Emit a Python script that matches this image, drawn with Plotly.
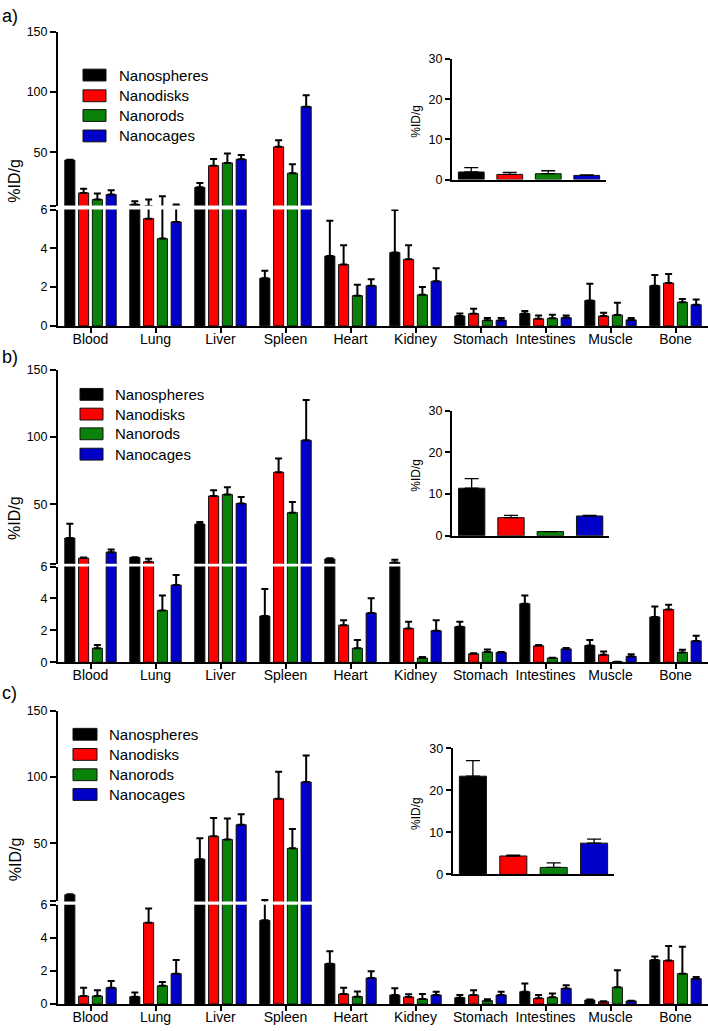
import plotly.graph_objects as go

W, H = 708, 1031

organs = ["Blood", "Lung", "Liver", "Spleen", "Heart", "Kidney",
          "Stomach", "Intestines", "Muscle", "Bone"]
particles = ["Nanospheres", "Nanodisks", "Nanorods", "Nanocages"]
colors = ["#000000", "#ff0000", "#0a820a", "#0000c8"]

# a) values in %ID/g (mean and upper error)
a_spheres = [43.7, 6.9, 21.1, 2.46, 3.6, 3.78, 0.51, 0.64, 1.31, 2.07]
a_spheres_sd = [0.3, 2.7, 3.5, 0.38, 1.82, 2.2, 0.13, 0.13, 0.86, 0.56]
a_disks = [16.5, 5.53, 39.0, 54.6, 3.16, 3.43, 0.63, 0.37, 0.51, 2.21]
a_disks_sd = [3.5, 5.5, 5.5, 5.5, 1.0, 0.73, 0.25, 0.17, 0.17, 0.47]
a_rods = [11.0, 4.5, 41.3, 32.8, 1.56, 1.6, 0.29, 0.39, 0.56, 1.22]
a_rods_sd = [5.0, 9.2, 7.9, 7.4, 0.56, 0.4, 0.12, 0.19, 0.63, 0.17]
a_cages = [15.1, 5.36, 44.3, 87.9, 2.07, 2.3, 0.29, 0.42, 0.31, 1.09]
a_cages_sd = [3.5, 1.5, 3.5, 9.5, 0.34, 0.67, 0.12, 0.12, 0.1, 0.27]
a_inset = [1.9, 1.3, 1.47, 1.05]
a_inset_sd = [1.1, 0.5, 0.73, 0.15]

# b)
b_spheres = [25.1, 10.7, 35.4, 2.9, 9.6, 7.0, 2.23, 3.67, 1.05, 2.84]
b_spheres_sd = [10.5, 0.2, 1.6, 1.7, 0.5, 2.0, 0.31, 0.51, 0.35, 0.66]
b_disks = [10.2, 7.5, 56.3, 73.9, 2.33, 2.12, 0.53, 1.03, 0.47, 3.31]
b_disks_sd = [0.4, 2.2, 4.2, 10.2, 0.31, 0.42, 0.03, 0.06, 0.21, 0.29]
b_rods = [0.88, 3.25, 57.3, 43.9, 0.88, 0.27, 0.64, 0.27, 0.03, 0.62]
b_rods_sd = [0.21, 0.93, 5.4, 8.0, 0.52, 0.06, 0.16, 0.02, 0.0, 0.16]
b_cages = [14.6, 4.84, 50.7, 97.6, 3.09, 1.98, 0.62, 0.84, 0.37, 1.34]
b_cages_sd = [1.9, 0.64, 4.9, 30.0, 0.93, 0.66, 0.03, 0.06, 0.14, 0.33]
b_inset = [11.4, 4.34, 1.0, 4.74]
b_inset_sd = [2.3, 0.56, 0.0, 0.16]

# c)
c_spheres = [11.1, 0.44, 37.9, 5.05, 2.43, 0.54, 0.38, 0.74, 0.24, 2.66]
c_spheres_sd = [0.3, 0.26, 15.8, 2.05, 0.75, 0.41, 0.16, 0.49, 0.03, 0.2]
c_disks = [0.48, 4.91, 55.2, 83.5, 0.6, 0.42, 0.54, 0.34, 0.14, 2.62]
c_disks_sd = [0.5, 0.85, 13.7, 20.4, 0.38, 0.16, 0.29, 0.2, 0.02, 0.88]
c_rods = [0.48, 1.1, 52.8, 46.1, 0.44, 0.3, 0.2, 0.4, 1.01, 1.83]
c_rods_sd = [0.35, 0.23, 15.8, 14.6, 0.32, 0.3, 0.08, 0.24, 1.02, 1.63]
c_cages = [0.98, 1.83, 63.9, 96.1, 1.57, 0.54, 0.54, 0.94, 0.18, 1.53]
c_cages_sd = [0.41, 0.83, 8.0, 20.1, 0.4, 0.2, 0.2, 0.19, 0.02, 0.1]
c_inset = [23.4, 4.38, 1.65, 7.44]
c_inset_sd = [3.7, 0.22, 1.08, 0.94]

BREAK = 6  # axis break between the two segments


def fx(px):
    return px / W


def fy(px):
    return 1 - px / H


# pixel layout of each panel
panels = [
    dict(label="a)", vals=[a_spheres, a_disks, a_rods, a_cages],
         sd=[a_spheres_sd, a_disks_sd, a_rods_sd, a_cages_sd],
         inset=a_inset, inset_sd=a_inset_sd,
         up=(25, 201.3), lo=(205.3, 323.3), ins_x=(452, 606), ins_y=(52.7, 175),
         label_y=9, rows=[69, 90, 110, 130.7], sw=(83, 106), tx=117),
    dict(label="b)", vals=[b_spheres, b_disks, b_rods, b_cages],
         sd=[b_spheres_sd, b_disks_sd, b_rods_sd, b_cages_sd],
         inset=b_inset, inset_sd=b_inset_sd,
         up=(367.7, 564.4), lo=(567.3, 664.3), ins_x=(452, 609.3), ins_y=(409.3, 536),
         label_y=355, rows=[392.7, 412.7, 432.7, 453.3], sw=(80, 103), tx=113),
    dict(label="c)", vals=[c_spheres, c_disks, c_rods, c_cages],
         sd=[c_spheres_sd, c_disks_sd, c_rods_sd, c_cages_sd],
         inset=c_inset, inset_sd=c_inset_sd,
         up=(713.3, 906.8), lo=(910, 1010.7), ins_x=(452.7, 614.3), ins_y=(751.7, 879.3),
         label_y=695, rows=[737.3, 757.7, 778.3, 798.3], sw=(73, 97), tx=107),
]

FONT = "Liberation Sans, Arial, sans-serif"
pitch, bw = 0.212, 0.155
x_left = 58

fig = go.Figure()
annotations = []
shapes = []
layout_axes = {}


def axname(i):
    return ("x", "y") if i == 1 else (f"x{i}", f"y{i}")


def lay(i):
    return ("xaxis", "yaxis") if i == 1 else (f"xaxis{i}", f"yaxis{i}")


axis_common = dict(showgrid=False, zeroline=False, showline=True, linecolor="black",
                   linewidth=2, ticks="outside", tickcolor="black", tickwidth=2,
                   tickfont=dict(size=12.5, color="black", family=FONT))

for p, panel in enumerate(panels):
    up, lo, ins = 3 * p + 1, 3 * p + 2, 3 * p + 3
    for k in range(4):
        vals, sd = panel["vals"][k], panel["sd"][k]
        # only keep the error bars that reach into each segment
        err_up = [e if v + e > BREAK else None for v, e in zip(vals, sd)]
        err_lo = [e if v < BREAK else None for v, e in zip(vals, sd)]
        for ax, err in ((up, err_up), (lo, err_lo)):
            xa, ya = axname(ax)
            fig.add_trace(go.Bar(
                x=list(range(len(organs))), y=vals,
                width=bw, offset=(k - 1.5) * pitch - bw / 2,
                marker=dict(color=colors[k], line=dict(color="#111111", width=1)),
                error_y=dict(type="data", symmetric=False, array=err,
                             arrayminus=[0] * len(organs), color="black",
                             thickness=2, width=3.5),
                xaxis=xa, yaxis=ya, showlegend=False, name=particles[k]))
    xa, ya = axname(ins)
    fig.add_trace(go.Bar(
        x=list(range(4)), y=panel["inset"], width=0.67,
        marker=dict(color=colors, line=dict(color="#111111", width=1)),
        error_y=dict(type="data", symmetric=False, array=panel["inset_sd"],
                     arrayminus=[0] * 4, color="black", thickness=1.3, width=7),
        xaxis=xa, yaxis=ya, showlegend=False))

    # main upper segment
    lx, ly = lay(up)
    layout_axes[lx] = dict(domain=[fx(x_left), 1], range=[-0.5, 9.5], visible=False,
                           anchor=axname(up)[1])
    layout_axes[ly] = dict(axis_common, domain=[fy(panel["up"][1]), fy(panel["up"][0])],
                           range=[BREAK, 150], tickvals=[BREAK, 50, 100, 150],
                           ticktext=["", "50", "100", "150"], ticklen=6,
                           anchor=axname(up)[0])
    # main lower segment
    lx, ly = lay(lo)
    layout_axes[lx] = dict(axis_common, domain=[fx(x_left), 1], range=[-0.5, 9.5],
                           tickvals=list(range(10)), ticktext=organs, ticklen=5,
                           ticklabelstandoff=-6,
                           tickfont=dict(size=14, color="black", family=FONT),
                           anchor=axname(lo)[1])
    layout_axes[ly] = dict(axis_common, domain=[fy(panel["lo"][1]), fy(panel["lo"][0])],
                           range=[0, BREAK], tickvals=[0, 2, 4, 6], ticklen=6,
                           anchor=axname(lo)[0])
    # inset
    lx, ly = lay(ins)
    layout_axes[lx] = dict(axis_common, domain=[fx(panel["ins_x"][0]), fx(panel["ins_x"][1])],
                           range=[-0.5, 3.5], ticks="", showticklabels=False,
                           anchor=axname(ins)[1])
    layout_axes[ly] = dict(axis_common, domain=[fy(panel["ins_y"][1]), fy(panel["ins_y"][0])],
                           range=[0, 30], tickvals=[0, 10, 20, 30], ticklen=5,
                           tickfont=dict(size=12.5, color="black", family=FONT),
                           anchor=axname(ins)[0])

    # panel letter
    annotations.append(dict(text=panel["label"], x=fx(0), y=fy(panel["label_y"]),
                            xref="paper", yref="paper", xanchor="left", yanchor="middle",
                            showarrow=False, font=dict(size=18, color="black", family=FONT)))
    # y titles
    mid = (panel["up"][0] + panel["lo"][1]) / 2 + 2
    annotations.append(dict(text="%ID/g", x=fx(15), y=fy(mid), xref="paper", yref="paper",
                            textangle=-90, showarrow=False, xanchor="center", yanchor="middle",
                            font=dict(size=16, color="black", family=FONT)))
    imid = (panel["ins_y"][0] + panel["ins_y"][1]) / 2 + 2
    annotations.append(dict(text="%ID/g", x=fx(416.5), y=fy(imid), xref="paper", yref="paper",
                            textangle=-90, showarrow=False, xanchor="center", yanchor="middle",
                            font=dict(size=12, color="black", family=FONT)))
    # legend
    for k, row in enumerate(panel["rows"]):
        shapes.append(dict(type="rect", xref="paper", yref="paper",
                           x0=fx(panel["sw"][0]), x1=fx(panel["sw"][1]),
                           y0=fy(row + 6), y1=fy(row - 6),
                           fillcolor=colors[k], line=dict(color="#111111", width=1)))
        annotations.append(dict(text=particles[k], x=fx(panel["tx"]), y=fy(row),
                                xref="paper", yref="paper", xanchor="left", yanchor="middle",
                                showarrow=False, font=dict(size=15, color="black", family=FONT)))

fig.update_layout(
    width=W, height=H, margin=dict(l=0, r=0, t=0, b=0),
    paper_bgcolor="white", plot_bgcolor="rgba(0,0,0,0)",
    barmode="overlay", showlegend=False, hovermode=False,
    font=dict(family=FONT, color="black"),
    annotations=annotations, shapes=shapes,
    **layout_axes,
)

fig.write_html("out.html", config={"displayModeBar": False, "staticPlot": True},
               post_script="document.body.style.margin='0';document.body.style.overflow='hidden';")
